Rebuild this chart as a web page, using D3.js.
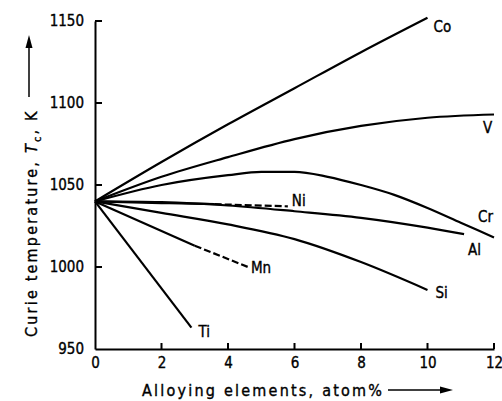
<!DOCTYPE html>
<html>
<head>
<meta charset="utf-8">
<script src="https://cdn.jsdelivr.net/npm/d3@7"></script>
<style>
  html, body { margin: 0; padding: 0; background: #fff; }
  svg text { font-family: "DejaVu Sans Condensed", "Liberation Sans Narrow", sans-serif; fill: #000; stroke: #000; stroke-width: 0.35px; }
</style>
</head>
<body>
<svg id="curie"></svg>
<script>
// atom% vs Curie temperature (K)
const co = [[0, 1040], [2, 1064], [4, 1087], [6, 1109], [8, 1131], [10, 1152]];
const v = [[0, 1040], [2, 1055], [4, 1067], [6, 1078], [8, 1086], [10, 1091], [12, 1093]];
const cr = [[0, 1040], [2, 1050], [4, 1056], [5, 1058], [6, 1058], [7, 1055], [8, 1050], [9, 1044], [10, 1036], [11, 1027], [12, 1018]];
const niSolid = [[0, 1040], [2, 1039], [3.6, 1038.3]];
const niDashed = [[3.6, 1038.3], [5.8, 1037]];
const al = [[0, 1040], [2, 1039.5], [4, 1037.5], [6, 1034], [8, 1030], [10, 1024], [11.1, 1020]];
const si = [[0, 1040], [2, 1033], [4, 1026], [6, 1017], [8, 1003], [10, 986]];
const mnSolid = [[0, 1040], [3, 1013]];
const mnDashed = [[3, 1013], [4.6, 1000]];
const ti = [[0, 1040], [2.9, 963]];

const xTicks = [0, 2, 4, 6, 8, 10, 12];
const yTicks = [950, 1000, 1050, 1100, 1150];

const margin = { top: 21, right: 8, bottom: 52, left: 95 },
  width = 502 - margin.left - margin.right,
  height = 401 - margin.top - margin.bottom;

const root = d3.select("#curie").attr("width", 502).attr("height", 401);

const svg = root.append("g").attr("transform", `translate(${margin.left},${margin.top})`);

const x = d3.scaleLinear().domain([0, 12]).range([0, width]);
const y = d3.scaleLinear().domain([950, 1150]).range([height, 0]);

// Ejes
const xAxis = svg
  .append("g")
  .attr("transform", `translate(0,${height})`)
  .call(d3.axisBottom(x).tickValues(xTicks).tickSize(0).tickPadding(8));

const yAxis = svg
  .append("g")
  .call(d3.axisLeft(y).tickValues(yTicks).tickSize(0).tickPadding(11).tickFormat(d3.format("d")));

[xAxis, yAxis].forEach((g) => {
  g.attr("font-family", null).attr("font-size", 15);
  g.select(".domain").attr("stroke", "#000").attr("stroke-width", 2);
});

// inward ticks (filled)
svg
  .selectAll("rect.xtick")
  .data(xTicks.filter((d) => d > 0))
  .enter()
  .append("rect")
  .attr("class", "xtick")
  .attr("x", (d) => x(d) - 1)
  .attr("y", height - 6)
  .attr("width", 2)
  .attr("height", 6)
  .attr("fill", "#000");

svg
  .selectAll("rect.ytick")
  .data(yTicks.filter((d) => d > 950))
  .enter()
  .append("rect")
  .attr("class", "ytick")
  .attr("x", 0)
  .attr("y", (d) => y(d) - 1)
  .attr("width", 7)
  .attr("height", 2)
  .attr("fill", "#000");

const line = d3
  .line()
  .x((d) => x(d[0]))
  .y((d) => y(d[1]))
  .curve(d3.curveMonotoneX);

const series = [
  { name: "Co", pts: co, dash: null },
  { name: "V", pts: v, dash: null },
  { name: "Cr", pts: cr, dash: null },
  { name: null, pts: niSolid, dash: null },
  { name: "Ni", pts: niDashed, dash: "7,3" },
  { name: "Al", pts: al, dash: null },
  { name: "Si", pts: si, dash: null },
  { name: null, pts: mnSolid, dash: null },
  { name: "Mn", pts: mnDashed, dash: "7,3" },
  { name: "Ti", pts: ti, dash: null }
];

// label offsets from line end (px)
const labelOffset = {
  Co: [6, 14], V: [-11, 19], Cr: [-16, -15], Ni: [4, 0],
  Al: [4, 21], Si: [8, 8], Mn: [3, 6], Ti: [7, 9]
};

svg
  .selectAll("path.curve")
  .data(series)
  .enter()
  .append("path")
  .attr("class", "curve")
  .attr("d", (d) => line(d.pts))
  .attr("fill", "none")
  .attr("stroke", "#000")
  .attr("stroke-width", 2.2)
  .attr("stroke-dasharray", (d) => d.dash);

svg
  .selectAll("text.lbl")
  .data(series.filter((d) => d.name))
  .enter()
  .append("text")
  .attr("class", "lbl")
  .attr("x", (d) => x(d.pts[d.pts.length - 1][0]) + labelOffset[d.name][0])
  .attr("y", (d) => y(d.pts[d.pts.length - 1][1]) + labelOffset[d.name][1])
  .attr("font-size", 15)
  .text((d) => d.name);

// x title + arrow
root
  .append("text")
  .attr("x", 142)
  .attr("y", 396)
  .attr("font-size", 16)
  .attr("textLength", 240)
  .attr("lengthAdjust", "spacing")
  .text("Alloying elements, atom%");

root
  .append("path")
  .attr("d", "M388,390H442")
  .attr("stroke", "#000")
  .attr("stroke-width", 1.5);
root.append("path").attr("d", "M440,386.5L453,390L440,393.5Z").attr("fill", "#000");

// y title + arrow
const yt = root
  .append("text")
  .attr("transform", "translate(37,337) rotate(-90)")
  .attr("font-size", 16)
  .attr("letter-spacing", 2.2);
yt.append("tspan").text("Curie temperature, ");
yt.append("tspan").attr("font-style", "italic").text("T");
yt.append("tspan").attr("font-size", 11).attr("dy", 4).text("c");
yt.append("tspan").attr("dy", -4).text(", K");

root
  .append("path")
  .attr("d", "M29,97V46")
  .attr("stroke", "#000")
  .attr("stroke-width", 1.5);
root.append("path").attr("d", "M25.5,48L29,35L32.5,48Z").attr("fill", "#000");
</script>
</body>
</html>
